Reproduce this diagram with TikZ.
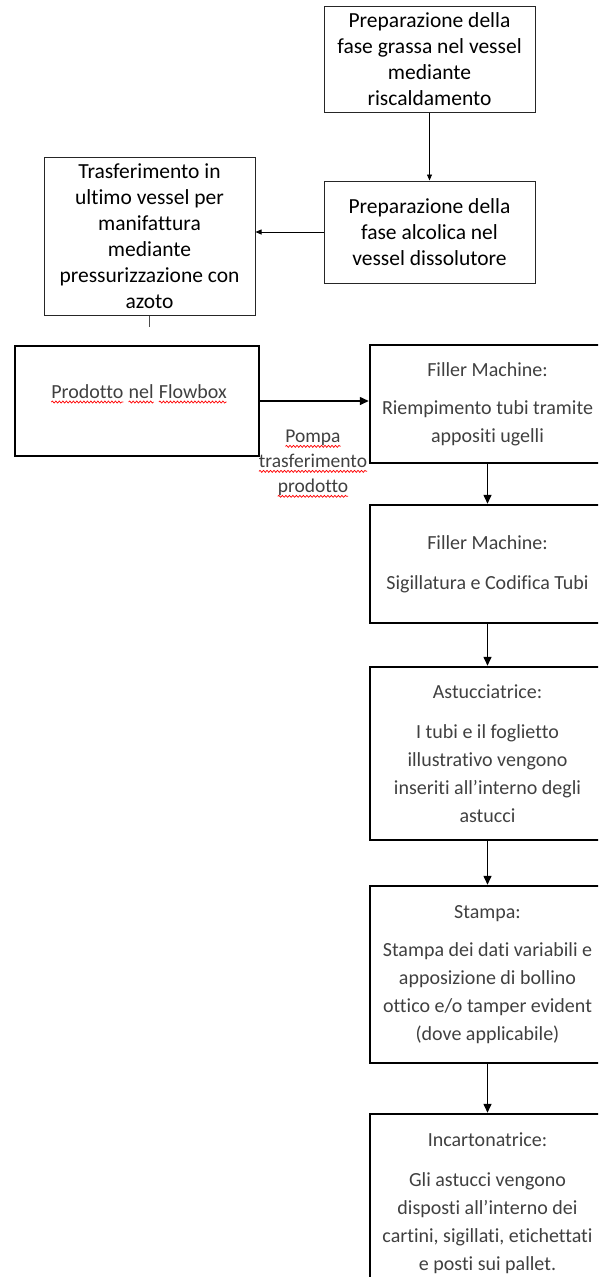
\documentclass[tikz,border=0pt]{standalone}
\usepackage{fontspec}
\setmainfont{Carlito}[Ligatures=NoCommon]
\usepackage{tikz}
\usetikzlibrary{arrows.meta,decorations.pathmorphing}

\newcommand{\redwave}[1]{\tikz[baseline=(w.base)]{\node[inner sep=0pt,outer sep=0pt,draw=none,minimum size=0pt] (w) {#1};
    \draw[red,line width=0.7pt,decorate,decoration={snake,amplitude=1pt,segment length=3.5pt}] ([yshift=-3.5pt]w.base west) -- ([yshift=-3.5pt]w.base east);}}

\begin{document}
\begin{tikzpicture}[x=1pt,y=-1pt,
    topbox/.style={draw=black!85,line width=1pt,inner sep=0pt,align=center,
        font=\fontsize{21.5}{26}\selectfont},
    stepbox/.style={draw=black,line width=2.5pt,inner sep=0pt,align=center,
        text=black!75,font=\fontsize{20}{28}\selectfont},
    thinarrow/.style={-{Triangle[length=6pt,width=5pt]},line width=0.8pt},
    bigarrow/.style={-{Triangle[length=9pt,width=8pt]},line width=1.5pt}]
    \useasboundingbox (0,0) rectangle (598,1277);
    \clip (0,0) rectangle (598,1277);
    % upper part
    \node[topbox,minimum width=211pt,minimum height=106pt] (grassa) at (429.5,59) {Preparazione della\\fase grassa nel vessel\\mediante\\riscaldamento};
    \node[topbox,minimum width=211pt,minimum height=102pt] (alcolica) at (429.5,232) {Preparazione della\\fase alcolica nel\\vessel dissolutore};
    \node[topbox,minimum width=211pt,minimum height=158pt] (trasf) at (149.5,236) {Trasferimento in\\ultimo vessel per\\manifattura\\mediante\\pressurizzazione con\\azoto};
    \coordinate (stub) at (149.5,327);
    % lower part
    \node[stepbox,minimum width=244pt,minimum height=110pt] (flowbox) at (137,401) {};
    \node[align=center,text=black!75,font=\fontsize{20}{28}\selectfont] (flowtext) at (139,394) {\redwave{Prodotto} \redwave{nel} \redwave{Flowbox}};
    \node[align=center,text=black!75,font=\fontsize{19.5}{25}\selectfont] (pompa) at (313,464) {\redwave{Pompa}\\\redwave{trasferimento}\\\redwave{prodotto}};
    \node[stepbox,minimum width=235pt,minimum height=118pt] (riemp) at (487.5,404) {Filler Machine:\\[10pt]Riempimento tubi tramite\\appositi ugelli};
    \node[stepbox,minimum width=235pt,minimum height=118pt] (sigill) at (487.5,564) {Filler Machine:\\[12pt]Sigillatura e Codifica Tubi};
    \node[stepbox,minimum width=235pt,minimum height=173pt] (astucc) at (487.5,753.5) {Astucciatrice:\\[12pt]I tubi e il foglietto\\illustrativo vengono\\inseriti all’interno degli\\astucci};
    \node[stepbox,minimum width=235pt,minimum height=177pt] (stampa) at (487.5,974.5) {Stampa:\\[10pt]Stampa dei dati variabili e\\apposizione di bollino\\ottico e/o tamper evident\\(dove applicabile)};
    \node[stepbox,minimum width=235pt,minimum height=179pt] (incart) at (487.5,1203.5) {Incartonatrice:\\[12pt]Gli astucci vengono\\disposti all’interno dei\\cartini, sigillati, etichettati\\e posti sui pallet.};
    % connectors
    \draw[thinarrow] (grassa) -- (alcolica);
    \draw[thinarrow] (alcolica.west) -- (alcolica.west -| trasf.east);
    \draw[line width=0.8pt,black!70] (trasf) -- (stub);
    \draw[bigarrow] (flowbox.east) -- (flowbox.east -| riemp.west);
    \draw[bigarrow] (riemp) -- (sigill);
    \draw[bigarrow] (sigill) -- (astucc);
    \draw[bigarrow] (astucc) -- (stampa);
    \draw[bigarrow] (stampa) -- (incart);
\end{tikzpicture}
\end{document}
